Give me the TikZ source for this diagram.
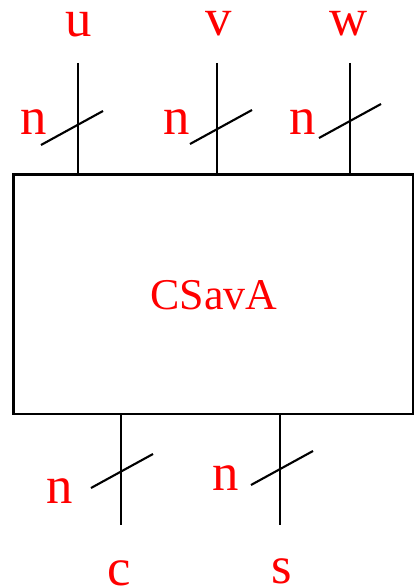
\documentclass[tikz,border=0pt]{standalone}
\usepackage{fontspec}
\setmainfont{Liberation Serif}
\usepackage{tikz}

\tikzset{
    sig/.style={red, inner sep=0pt, anchor=base, font=\fontsize{30}{34}\selectfont},
    wire/.style={line width=1.2pt}
}

\begin{document}
\begin{tikzpicture}[x=0.02cm, y=-0.02cm]
    \useasboundingbox (0,0) rectangle (419,588);

    % block
    \node[draw, line width=1.2pt, minimum width=7.99cm, minimum height=4.79cm, inner sep=0pt] (box) at (213.25,294.25) {};
    \node[red, inner sep=0pt, font=\fontsize{25}{30}\selectfont] (name) at (214,295) {CSavA};

    % inputs on top
    \coordinate (ut) at (78,63);
    \coordinate (vt) at (217,63);
    \coordinate (wt) at (350,63);
    \draw[wire] (ut) -- (ut |- box.north);
    \draw[wire] (vt) -- (vt |- box.north);
    \draw[wire] (wt) -- (wt |- box.north);

    \node[sig] (u) at (79,37) {u};
    \node[sig] (v) at (219,36) {v};
    \node[sig] (w) at (349,36) {w};

    % outputs below
    \coordinate (cb) at (121,525);
    \coordinate (sb) at (280,525);
    \draw[wire] (box.south -| cb) -- (cb);
    \draw[wire] (box.south -| sb) -- (sb);

    \node[sig] (c) at (119,585) {c};
    \node[sig] (s) at (281.5,583) {s};

    % bus width marks
    \foreach \x/\y in {41/145, 190/144, 319/138, 91/488, 251/485}
        \draw[wire] (\x,\y) -- ++(62,-34);

    \node[sig] (n1) at (33.5,134) {n};
    \node[sig] (n2) at (176.7,134) {n};
    \node[sig] (n3) at (303,134) {n};
    \node[sig] (n4) at (60,503) {n};
    \node[sig] (n5) at (226,490) {n};
\end{tikzpicture}
\end{document}
